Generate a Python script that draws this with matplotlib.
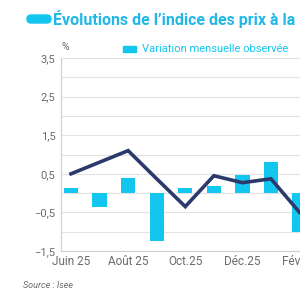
import matplotlib.pyplot as plt
from matplotlib.patches import FancyBboxPatch

months = ['Juin 25', 'Juil 25', 'Août 25', 'Sept.25', 'Oct.25', 'Nov.25',
          'Déc.25', 'Janv.26', 'Fév.26']
monthly = [0.14, -0.36, 0.40, -1.25, 0.12, 0.18, 0.46, 0.80, -1.00]
annual = [0.50, 0.80, 1.10, 0.37, -0.35, 0.45, 0.27, 0.37, -0.50]
tick_labels = ['Juin 25', 'Août 25', 'Oct.25', 'Déc.25', 'Fév.26']
yticks = [3.5, 2.5, 1.5, 0.5, -0.5, -1.5]

cyan = '#12c6f0'
navy = '#2b3a6b'
grey = '#6b6b6b'

plt.rcParams['font.family'] = ['Roboto', 'DejaVu Sans']

fig = plt.figure(figsize=(3, 3), dpi=100)
ax = fig.add_axes([61 / 300, 1 - 251 / 300, 290 / 300, 193 / 300])

x = list(range(len(months)))
ax.bar(x, monthly, width=0.5, color=cyan, zorder=2)
ax.plot(x, annual, color=navy, linewidth=2.6, zorder=3, solid_joinstyle='miter')

ax.set_xlim(-0.35, 9.8)
ax.set_ylim(-1.5, 3.5)
ax.set_yticks([v / 2 for v in range(-3, 8)])
ax.set_yticklabels([('%.1f' % (v / 2)).replace('.', ',').replace('-', '−')
                    if (v / 2) in yticks else '' for v in range(-3, 8)])
ax.set_xticks(x[::2])
ax.set_xticklabels(tick_labels)
ax.tick_params(length=0, labelsize=8, colors=grey, pad=4)
ax.tick_params(axis='x', labelsize=8.5, pad=3)
ax.grid(axis='y', color='#e3e3e3', linewidth=0.8, zorder=0)
for s in ['top', 'right']:
    ax.spines[s].set_visible(False)
for s in ['left', 'bottom']:
    ax.spines[s].set_color('#cfcfcf')
    ax.spines[s].set_linewidth(0.8)

fig.text(62 / 300, 1 - 47 / 300, '%', fontsize=7.5, color=grey, va='center')
fig.patches.append(plt.Rectangle((123 / 300, 1 - 52 / 300), 13 / 300, 6 / 300,
                                 color=cyan, transform=fig.transFigure))
fig.text(142 / 300, 1 - 49 / 300, 'Variation mensuelle observée', fontsize=8,
         color=cyan, va='center')

pill = FancyBboxPatch((27 / 300, 1 - 23 / 300), 24 / 300, 8 / 300,
                      boxstyle='round,pad=0,rounding_size=0.0135',
                      transform=fig.transFigure, color=cyan)
fig.patches.append(pill)
fig.text(53 / 300, 1 - 19 / 300, "Évolutions de l’indice des prix à la",
         fontsize=11.5, fontweight='bold', color='#22b8e6', va='center')

fig.text(23 / 300, 1 - 285 / 300, 'Source : Isee', fontsize=6.5, style='italic',
         color=grey, va='center')

fig.savefig('out.png', dpi=100)
